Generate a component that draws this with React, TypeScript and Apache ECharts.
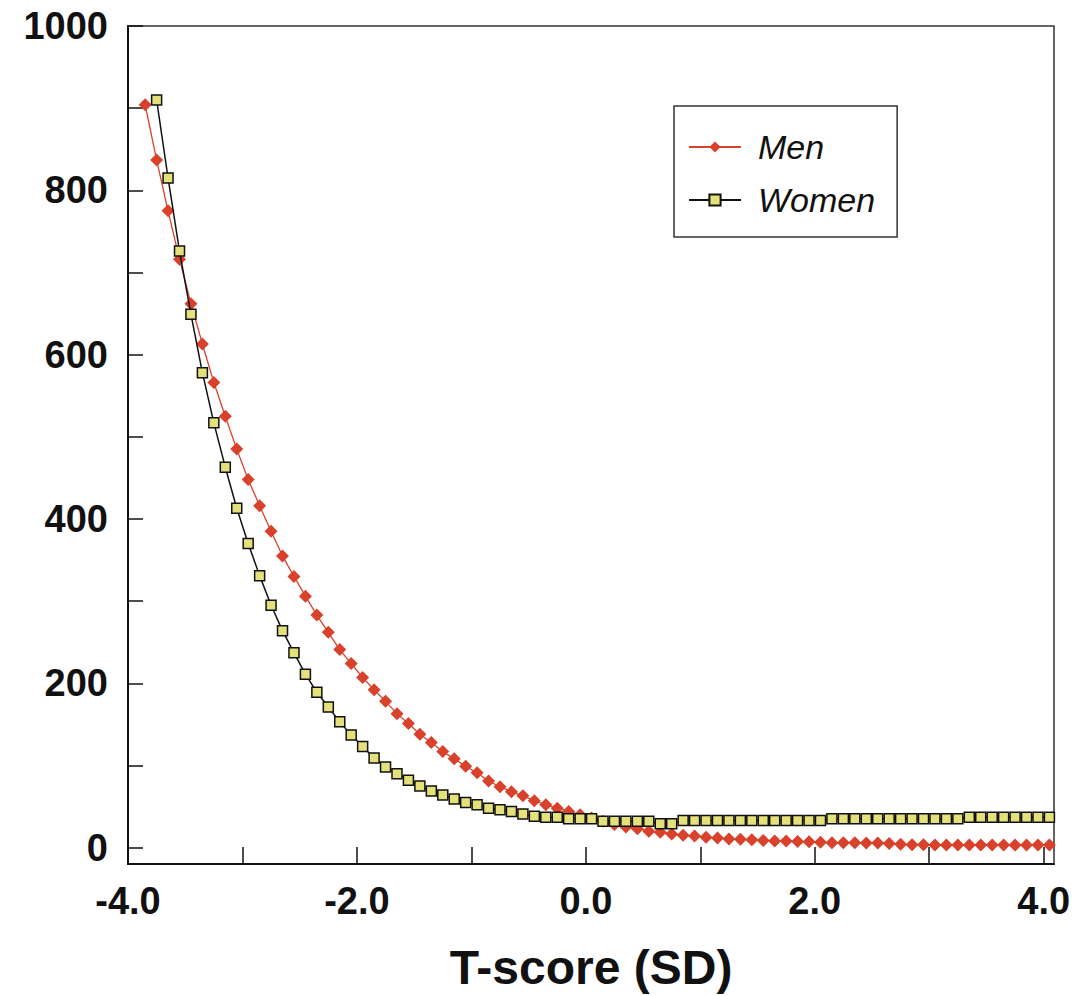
import React, { useEffect, useRef } from 'react';
import * as echarts from 'echarts';

const seriesNames = ['Men', 'Women'];

const menT = [
  -3.85, -3.75, -3.65, -3.55, -3.45, -3.35, -3.25, -3.15, -3.05, -2.95,
  -2.85, -2.75, -2.65, -2.55, -2.45, -2.35, -2.25, -2.15, -2.05, -1.95,
  -1.85, -1.75, -1.65, -1.55, -1.45, -1.35, -1.25, -1.15, -1.05, -0.95,
  -0.85, -0.75, -0.65, -0.55, -0.45, -0.35, -0.25, -0.15, -0.05, 0.05,
  0.15, 0.25, 0.35, 0.45, 0.55, 0.65, 0.75, 0.85, 0.95, 1.05,
  1.15, 1.25, 1.35, 1.45, 1.55, 1.65, 1.75, 1.85, 1.95, 2.05,
  2.15, 2.25, 2.35, 2.45, 2.55, 2.65, 2.75, 2.85, 2.95, 3.05,
  3.15, 3.25, 3.35, 3.45, 3.55, 3.65, 3.75, 3.85, 3.95, 4.05,
];
const menRate = [
  904, 837, 775, 716, 662, 613, 566, 525, 485, 448,
  416, 385, 355, 330, 306, 283, 262, 241, 224, 207,
  192, 178, 163, 151, 138, 128, 117, 108, 99, 91,
  81, 74, 68, 63, 57, 52, 48, 44, 40, 36,
  32, 28, 25, 23, 20, 18.5, 16.5, 15, 14, 12.5,
  11.5, 10.5, 10, 9.5, 8.5, 8, 8, 7.5, 7, 6.5,
  6, 6, 6, 5.5, 5.5, 5, 4, 3.5, 3.5, 3,
  3, 3, 3, 3, 3, 3, 3, 3, 3, 3,
];

const womenT = [
  -3.75, -3.65, -3.55, -3.45, -3.35, -3.25, -3.15, -3.05, -2.95,
  -2.85, -2.75, -2.65, -2.55, -2.45, -2.35, -2.25, -2.15, -2.05, -1.95,
  -1.85, -1.75, -1.65, -1.55, -1.45, -1.35, -1.25, -1.15, -1.05, -0.95,
  -0.85, -0.75, -0.65, -0.55, -0.45, -0.35, -0.25, -0.15, -0.05, 0.05,
  0.15, 0.25, 0.35, 0.45, 0.55, 0.65, 0.75, 0.85, 0.95, 1.05,
  1.15, 1.25, 1.35, 1.45, 1.55, 1.65, 1.75, 1.85, 1.95, 2.05,
  2.15, 2.25, 2.35, 2.45, 2.55, 2.65, 2.75, 2.85, 2.95, 3.05,
  3.15, 3.25, 3.35, 3.45, 3.55, 3.65, 3.75, 3.85, 3.95, 4.05,
];
const womenRate = [
  910, 815, 726, 649, 578, 517, 463, 413, 370,
  331, 295, 264, 237, 211, 189, 171, 153, 137, 123,
  109, 98, 90, 82, 75, 69, 64, 59, 55, 52,
  48, 46, 44, 41, 38, 37, 37, 35, 35, 35,
  32, 32, 32, 32, 32, 29, 29, 33, 33, 33,
  33, 33, 33, 33, 33, 33, 33, 33, 33, 33,
  35, 35, 35, 35, 35, 35, 35, 35, 35, 35,
  35, 35, 37, 37, 37, 37, 37, 37, 37, 37,
];

const xTickValues = [-4, -3, -2, -1, 0, 1, 2, 3, 4];
const xLabelValues = [-4, -2, 0, 2, 4];
const yTickValues = [0, 100, 200, 300, 400, 500, 600, 700, 800, 900, 1000];
const yLabelValues = [0, 200, 400, 600, 800, 1000];

const FONT = '"Liberation Sans", Arial, Helvetica, sans-serif';

export default function App() {
  const ref = useRef<HTMLDivElement>(null);

  useEffect(() => {
    document.body.style.margin = '0';
    const chart = echarts.init(ref.current as HTMLDivElement, null, { renderer: 'svg' });
    const menData = menT.map((t, i) => [t, menRate[i]]);
    const womenData = womenT.map((t, i) => [t, womenRate[i]]);

    chart.setOption({
      animation: false,
      backgroundColor: '#ffffff',
      grid: {
        left: 128,
        right: 25,
        top: 26,
        bottom: 129,
        show: true,
        borderColor: '#333333',
        borderWidth: 1.5,
        backgroundColor: 'transparent',
      },
      legend: {
        data: seriesNames,
        orient: 'vertical',
        left: 674,
        top: 106,
        padding: [21, 22, 17, 14],
        itemGap: 13,
        itemWidth: 52,
        itemHeight: 14,
        borderColor: '#333333',
        borderWidth: 1.5,
        backgroundColor: '#ffffff',
        textStyle: {
          fontFamily: FONT,
          fontSize: 34,
          fontStyle: 'italic',
          color: '#111111',
          lineHeight: 40,
          padding: [0, 0, 0, 12],
        },
      },
      xAxis: {
        type: 'value',
        min: -4,
        max: 4.09,
        name: 'T-score (SD)',
        nameLocation: 'middle',
        nameGap: 79,
        nameTextStyle: {
          fontFamily: FONT,
          fontSize: 48,
          fontWeight: 'bold',
          color: '#111111',
        },
        axisLine: { show: true, onZero: false, lineStyle: { color: '#111111', width: 2 } },
        axisTick: {
          show: true,
          inside: true,
          length: 17,
          customValues: xTickValues,
          lineStyle: { color: '#111111', width: 1.5 },
        },
        axisLabel: {
          customValues: xLabelValues,
          formatter: (v: number) => v.toFixed(1),
          fontFamily: FONT,
          fontSize: 38,
          fontWeight: 'bold',
          color: '#111111',
          margin: 18,
        },
        splitLine: { show: false },
      },
      yAxis: {
        type: 'value',
        min: -20,
        max: 1000,
        axisLine: { show: true, onZero: false, lineStyle: { color: '#111111', width: 2 } },
        axisTick: {
          show: true,
          inside: true,
          length: 15,
          customValues: yTickValues,
          lineStyle: { color: '#111111', width: 1.5 },
        },
        axisLabel: {
          customValues: yLabelValues,
          formatter: (v: number) => String(v),
          fontFamily: FONT,
          fontSize: 38,
          fontWeight: 'bold',
          color: '#111111',
          margin: 20,
        },
        splitLine: { show: false },
      },
      series: [
        {
          name: seriesNames[0],
          type: 'line',
          data: menData,
          symbol: 'diamond',
          symbolSize: 13,
          lineStyle: { color: '#d9412b', width: 1.3 },
          itemStyle: { color: '#d9412b', borderWidth: 0 },
          z: 2,
        },
        {
          name: seriesNames[1],
          type: 'line',
          data: womenData,
          symbol: 'rect',
          symbolSize: 10,
          lineStyle: { color: '#111111', width: 1.5 },
          itemStyle: { color: '#e4e07a', borderColor: '#111111', borderWidth: 1.5 },
          z: 3,
        },
      ],
    });

    return () => {
      chart.dispose();
    };
  }, []);

  return <div ref={ref} style={{ width: 1079, height: 996 }} />;
}
